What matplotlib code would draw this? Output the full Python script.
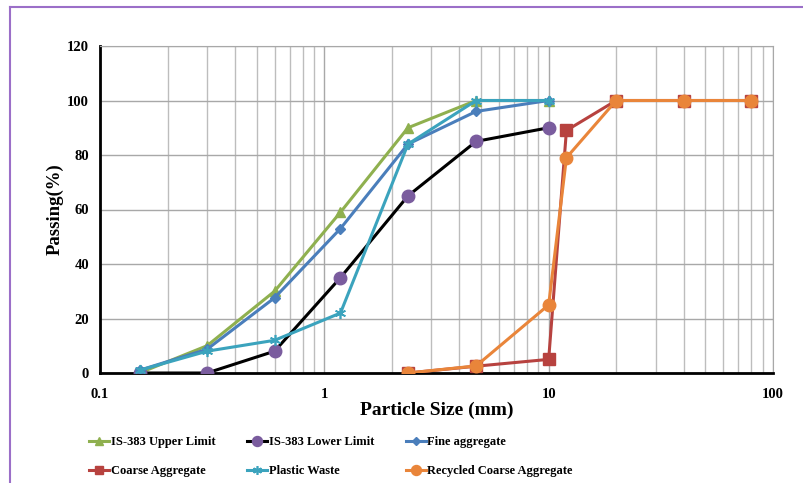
import numpy as np
import matplotlib
matplotlib.use('Agg')
import matplotlib.pyplot as plt
from matplotlib.lines import Line2D

plt.rcParams['font.family'] = ['Liberation Serif', 'DejaVu Serif']
plt.rcParams['font.weight'] = 'bold'

# sieve sizes (mm) and percent passing
sieve_fine = [0.15, 0.3, 0.6, 1.18, 2.36, 4.75, 10]
sieve_coarse = [2.36, 4.75, 10, 12, 20, 40, 80]

upper_limit = [0, 10, 30, 59, 90, 100, 100]
lower_limit = [0, 0, 8, 35, 65, 85, 90]
fine_agg = [1, 8.7, 27.6, 53, 84, 96, 100]
coarse_agg = [0, 2.5, 5, 89, 100, 100, 100]
plastic_waste = [1, 8, 12, 22, 84, 100, 100]
recycled_agg = [0, 2.6, 25, 79, 100, 100, 100]

c_green = '#8fb04f'
c_black = '#000000'
c_purple = '#7a5c9e'
c_blue = '#4a7ebb'
c_red = '#b7423f'
c_teal = '#3ba3bd'
c_orange = '#e9853a'

fig = plt.figure(figsize=(8.04, 4.83), dpi=100)
ax = fig.add_axes([100/804, 1-373/483, 673/804, 327/483])

lw = 2.2
ax.plot(sieve_fine, upper_limit, color=c_green, lw=lw, marker='^', ms=7,
        label='IS-383 Upper Limit', zorder=3)
ax.plot(sieve_fine, lower_limit, color=c_black, lw=lw, marker='o', ms=9,
        mfc=c_purple, mec=c_purple, label='IS-383 Lower Limit', zorder=3)
ax.plot(sieve_fine, fine_agg, color=c_blue, lw=lw, marker='D', ms=5,
        label='Fine aggregate', zorder=4)
ax.plot(sieve_coarse, coarse_agg, color=c_red, lw=lw, marker='s', ms=8,
        label='Coarse Aggregate', zorder=3)
ax.plot(sieve_fine, plastic_waste, color=c_teal, lw=lw, marker=(6, 2, 0), ms=8,
        mew=1.2, label='Plastic Waste', zorder=5)
ax.plot(sieve_coarse, recycled_agg, color=c_orange, lw=lw, marker='o', ms=9,
        label='Recycled Coarse Aggregate', zorder=4)

ax.set_xscale('log')
ax.set_xlim(0.1, 100)
ax.set_ylim(0, 120)
ax.set_yticks(np.arange(0, 121, 20))
ax.set_xticks([0.1, 1, 10, 100])
ax.set_xticklabels(['0.1', '1', '10', '100'])
ax.xaxis.set_minor_formatter(matplotlib.ticker.NullFormatter())

ax.grid(True, which='major', color='#a8a8a8', lw=1)
ax.grid(True, which='minor', axis='x', color='#bdbdbd', lw=1)
ax.set_axisbelow(True)
ax.tick_params(which='both', length=0, labelsize=10.5)
ax.tick_params(axis='x', pad=11)
ax.tick_params(axis='y', pad=8)
for t in ax.get_xticklabels() + ax.get_yticklabels():
    t.set_fontweight('bold')

ax.spines['left'].set_linewidth(2)
ax.spines['bottom'].set_linewidth(2)
ax.spines['top'].set_color('#a8a8a8')
ax.spines['right'].set_color('#a8a8a8')

ax.set_xlabel('Particle Size (mm)', fontsize=14, fontweight='bold', labelpad=0)
ax.set_ylabel('Passing(%)', fontsize=13.5, fontweight='bold', labelpad=2)

handles, labels = ax.get_legend_handles_labels()
# reorder so rows read across: upper, lower, fine / coarse, plastic, recycled
order = [0, 3, 1, 4, 2, 5]
fig.legend([handles[i] for i in order], [labels[i] for i in order],
           ncol=3, loc='upper left', bbox_to_anchor=(78/804, 1-425/483),
           frameon=False, fontsize=9, handlelength=1.6, handletextpad=0.15,
           columnspacing=2.5, labelspacing=1.35, markerscale=0.8)

# purple frame lines along the top and left edge
fig.add_artist(Line2D([10/804, 1], [1-6.5/483, 1-6.5/483], color='#9b6fc8', lw=1.5))
fig.add_artist(Line2D([10/804, 10/804], [0, 1-6.5/483], color='#9b6fc8', lw=1.5))

fig.savefig('out.png', dpi=100)
